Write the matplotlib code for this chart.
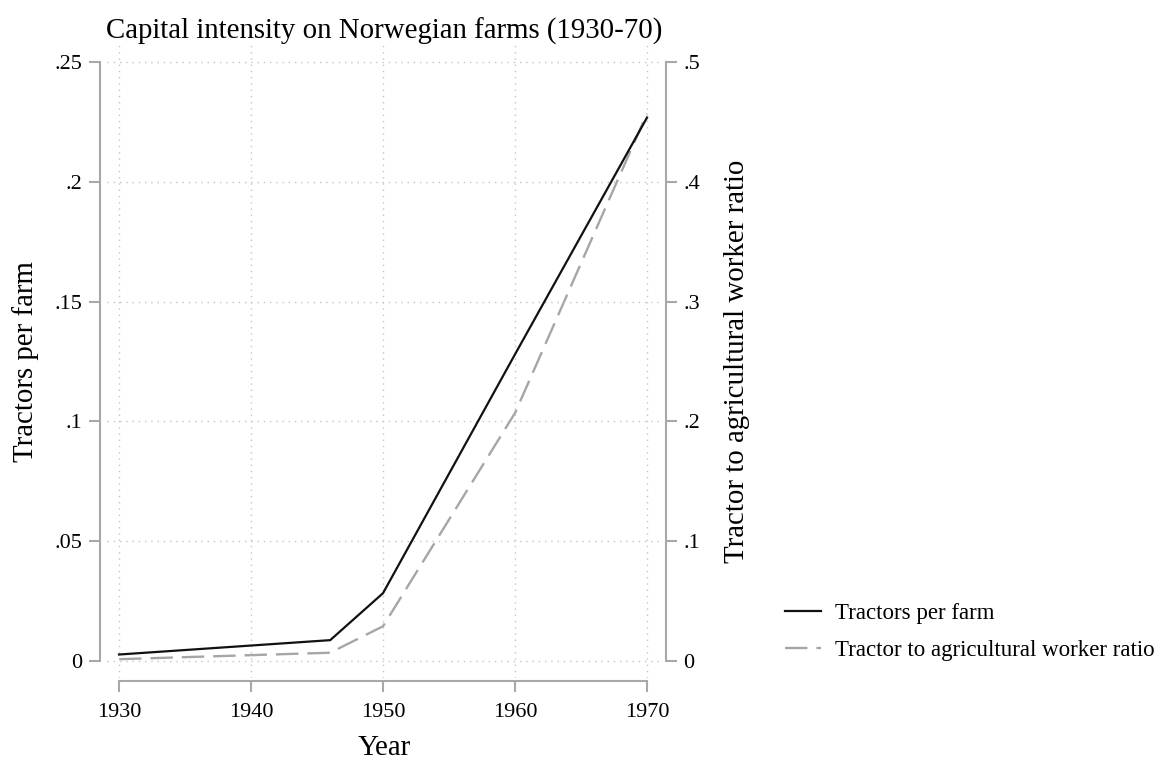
import matplotlib
matplotlib.use("Agg")
import matplotlib.pyplot as plt
from matplotlib.ticker import FixedLocator, FixedFormatter

plt.rcParams['font.family'] = ['Liberation Serif', 'DejaVu Serif']

# ---- data ----
years = [1930, 1946, 1950, 1960, 1970]
tractors_per_farm = [0.0027, 0.0087, 0.0283, 0.128, 0.2268]
tractor_worker_ratio = [0.0015, 0.0069, 0.029, 0.207, 0.457]

x_ticks = [1930, 1940, 1950, 1960, 1970]
x_ticklabels = ["1930", "1940", "1950", "1960", "1970"]
left_ticks = [0, 0.05, 0.10, 0.15, 0.20, 0.25]
left_ticklabels = ["0", ".05", ".1", ".15", ".2", ".25"]
right_ticks = [0, 0.1, 0.2, 0.3, 0.4, 0.5]
right_ticklabels = ["0", ".1", ".2", ".3", ".4", ".5"]

title = "Capital intensity on Norwegian farms (1930-70)"
xlabel = "Year"
ylabel_left = "Tractors per farm"
ylabel_right = "Tractor to agricultural worker ratio"
label1 = "Tractors per farm"
label2 = "Tractor to agricultural worker ratio"

W, H = 1158, 761
fig = plt.figure(figsize=(W / 100, H / 100), dpi=100)

# plot region in pixels
pl, pr, pt, pb = 107, 661, 45, 678
ax = fig.add_axes([pl / W, (H - pb) / H, (pr - pl) / W, (pb - pt) / H])
ax2 = ax.twinx()

spine_col = '#a8a8a8'
grid_col = '#c4c4c4'

ax.set_xlim(1929.09, 1971.06)
ax.set_ylim(-0.0071, 0.2571)
ax2.set_ylim(-0.0142, 0.5142)

l1, = ax.plot(years, tractors_per_farm, color='#111111', lw=1.6,
              solid_joinstyle='miter', zorder=3, label=label1)
l2, = ax2.plot(years, tractor_worker_ratio, color='#a6a6a6', lw=1.7,
               linestyle=(0, (9.5, 3.8)), zorder=2, label=label2)
ax.set_zorder(ax2.get_zorder() + 1)
ax.patch.set_visible(False)

ax.xaxis.set_major_locator(FixedLocator(x_ticks))
ax.xaxis.set_major_formatter(FixedFormatter(x_ticklabels))
ax.yaxis.set_major_locator(FixedLocator(left_ticks))
ax.yaxis.set_major_formatter(FixedFormatter(left_ticklabels))
ax2.yaxis.set_major_locator(FixedLocator(right_ticks))
ax2.yaxis.set_major_formatter(FixedFormatter(right_ticklabels))

ax.grid(True, color=grid_col, linestyle=(0, (1, 3.5)), lw=1.0)

for a in (ax, ax2):
    for s in a.spines.values():
        s.set_visible(False)

ax.spines['left'].set_visible(True)
ax.spines['left'].set_position(('outward', 5))
ax.spines['left'].set_bounds(0, 0.25)
ax.spines['bottom'].set_visible(True)
ax.spines['bottom'].set_position(('outward', 2.2))
ax.spines['bottom'].set_bounds(1930, 1970)
ax2.spines['right'].set_visible(True)
ax2.spines['right'].set_position(('outward', 3.6))
ax2.spines['right'].set_bounds(0, 0.5)
for s in (ax.spines['left'], ax.spines['bottom'], ax2.spines['right']):
    s.set_color(spine_col)
    s.set_linewidth(1.5)

fs_tick = 16
ax.tick_params(axis='both', length=8, width=1.5, color=spine_col,
               labelsize=fs_tick, pad=5)
ax.tick_params(axis='x', pad=8)
ax2.tick_params(axis='y', length=8, width=1.5, color=spine_col,
                labelsize=fs_tick, pad=4.5)

fs_lab = 20.8
ax.set_xlabel(xlabel, fontsize=fs_lab, labelpad=9)
ax.set_ylabel(ylabel_left, fontsize=fs_lab, labelpad=11)
ax2.set_ylabel(ylabel_right, fontsize=fs_lab, labelpad=17)
ax.set_title(title, fontsize=fs_lab, pad=4)

fig.legend(handles=[l1, l2], loc='center left',
           bbox_to_anchor=(785 / W, (H - 632) / H), frameon=False,
           fontsize=16.5, borderpad=0, borderaxespad=0,
           handlelength=1.55, handletextpad=0.65, labelspacing=0.7)

fig.savefig("out.png", dpi=100)
